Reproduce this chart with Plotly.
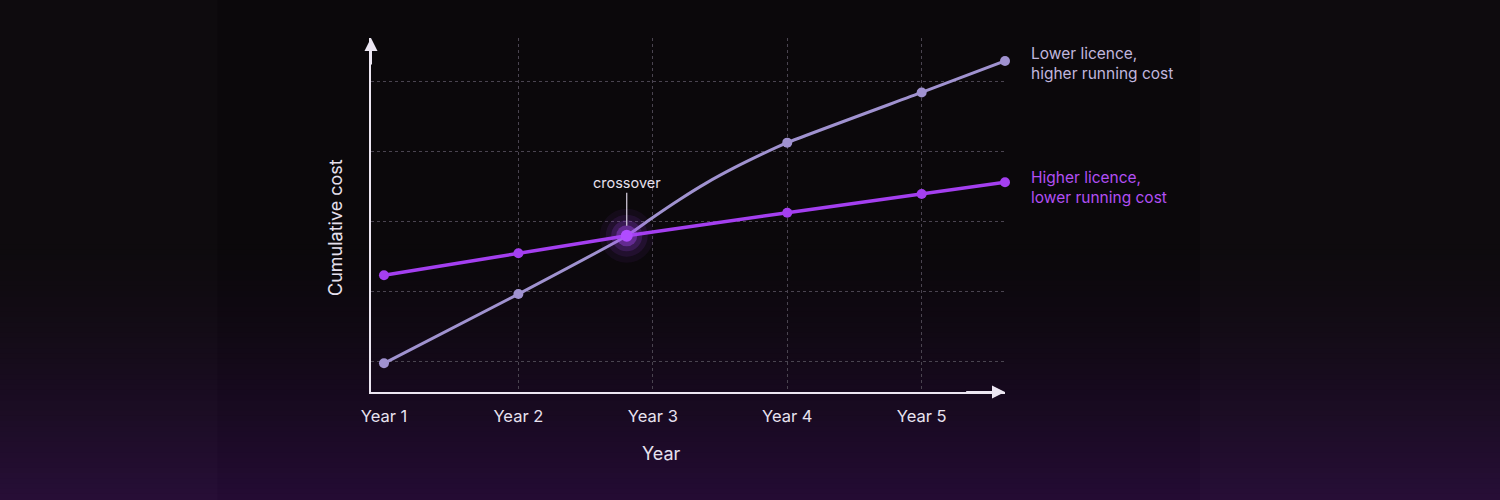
import plotly.graph_objects as go

# years with real markers
LOW_LIC_YEARS = [1, 2, 4, 5, 5.62]
LOW_LIC_COST = [96.7, 196, 413, 485, 530]
# path of the lavender curve (incl. the bend after the crossover)
LOW_LIC_PATH_X = [1, 2, 2.806, 3.0, 3.2, 3.4, 3.6, 3.8, 4, 5, 5.62]
LOW_LIC_PATH_Y = [96.7, 196, 279.6, 305.8, 331.6, 355.4, 376.4, 395.4, 413, 485, 530]

HIGH_LIC_YEARS = [1, 2, 2.806, 4, 5, 5.62]
HIGH_LIC_COST = [223, 254.4, 279.6, 312.6, 339.4, 356.2]

CROSS_X = 2.806
CROSS_Y = 279.6

TICK_YEARS = [1, 2, 3, 4, 5]
TICK_TEXT = ["Year 1", "Year 2", "Year 3", "Year 4", "Year 5"]
GRID_YEARS = [2, 3, 4, 5]
GRID_COST = [100, 200, 300, 400, 500]

X_RANGE = [0.9035, 5.62]
Y_RANGE = [55.6, 563]

LAV = "#a092d0"
PURP = "#a43ff0"
FONT = "Inter, Roboto, sans-serif"

fig = go.Figure()

# lavender line (curve) + its markers
fig.add_trace(go.Scatter(x=LOW_LIC_PATH_X, y=LOW_LIC_PATH_Y, mode="lines",
                         line=dict(color=LAV, width=3, shape="spline", smoothing=0.5),
                         hoverinfo="skip", cliponaxis=False))
fig.add_trace(go.Scatter(x=LOW_LIC_YEARS, y=LOW_LIC_COST, mode="markers",
                         marker=dict(color=LAV, size=10), cliponaxis=False))

# purple line
fig.add_trace(go.Scatter(x=HIGH_LIC_YEARS, y=HIGH_LIC_COST, mode="lines+markers",
                         line=dict(color=PURP, width=3.5),
                         marker=dict(color=PURP, size=10), cliponaxis=False))

# glow at the crossover
for sz, op in [(54, 0.06), (42, 0.1), (31, 0.18), (21, 0.38)]:
    fig.add_trace(go.Scatter(x=[CROSS_X], y=[CROSS_Y], mode="markers", xaxis="x2",
                             marker=dict(color="#a848f8", size=sz, opacity=op, line=dict(width=0)),
                             hoverinfo="skip"))
fig.add_trace(go.Scatter(x=[CROSS_X], y=[CROSS_Y], mode="markers", xaxis="x2",
                         marker=dict(color="#b04cff", size=12)))

# background gradient (dark top -> purple bottom)
shapes = []
top, bot = (11, 8, 11), (36, 11, 52)
n = 50
y_start = 240
for i in range(n):
    p0 = y_start + (500 - y_start) * i / n
    p1 = y_start + (500 - y_start) * (i + 1) / n
    t = ((p0 + p1) / 2 - y_start) / (500 - y_start)
    c = tuple(int(round(top[k] + (bot[k] - top[k]) * t ** 1.5)) for k in range(3))
    shapes.append(dict(type="rect", xref="paper", yref="paper", x0=0, x1=1,
                       y0=1 - p1 / 500, y1=1 - p0 / 500 + 0.002,
                       fillcolor="rgb(%d,%d,%d)" % c, line=dict(width=0), layer="below"))
# slightly lighter side panels
for x0, x1 in [(0, 0.145), (0.80, 1)]:
    shapes.append(dict(type="rect", xref="paper", yref="paper", x0=x0, x1=x1, y0=0, y1=1,
                       fillcolor="rgba(255,255,255,0.015)", line=dict(width=0), layer="below"))

ann = []
# axis arrows
ann.append(dict(x=X_RANGE[1], y=Y_RANGE[0], ax=X_RANGE[1] - 0.3, ay=Y_RANGE[0],
                xref="x", yref="y", axref="x", ayref="y", text="", showarrow=True,
                arrowhead=2, arrowsize=1.3, arrowwidth=2, arrowcolor="#ece6f2"))
ann.append(dict(x=X_RANGE[0], y=Y_RANGE[1], ax=X_RANGE[0], ay=Y_RANGE[1] - 40,
                xref="x", yref="y", axref="x", ayref="y", text="", showarrow=True,
                arrowhead=2, arrowsize=1.3, arrowwidth=2, arrowcolor="#ece6f2"))
# crossover label
ann.append(dict(x=CROSS_X, y=CROSS_Y, xref="x", yref="y", text="crossover",
                showarrow=True, arrowhead=0, arrowwidth=1.2, arrowcolor="#d8d0e2",
                ax=0, ay=-53, standoff=10, font=dict(family=FONT, size=14.5, color="#e6e0ee")))
# series labels
ann.append(dict(x=LOW_LIC_YEARS[-1], y=LOW_LIC_COST[-1], xref="x", yref="y",
                text="Lower licence,<br>higher running cost", showarrow=False,
                xanchor="left", yanchor="middle", align="left", xshift=24, yshift=-2,
                font=dict(family=FONT, size=15.5, color="#c0b6de")))
ann.append(dict(x=HIGH_LIC_YEARS[-1], y=HIGH_LIC_COST[-1], xref="x", yref="y",
                text="Higher licence,<br>lower running cost", showarrow=False,
                xanchor="left", yanchor="middle", align="left", xshift=24, yshift=-5,
                font=dict(family=FONT, size=15.5, color="#b24ff4")))
# axis titles
ann.append(dict(x=661 / 1500, y=1 - 453 / 500, xref="paper", yref="paper", text="Year",
                xanchor="center", yanchor="middle", showarrow=False,
                font=dict(family=FONT, size=18, color="#e6e0ee")))
ann.append(dict(x=336 / 1500, y=1 - 228 / 500, xref="paper", yref="paper",
                text="Cumulative cost", textangle=-90, showarrow=False,
                xanchor="center", yanchor="middle",
                font=dict(family=FONT, size=18, color="#e6e0ee")))

fig.update_layout(
    width=1500, height=500,
    margin=dict(l=0, r=0, t=0, b=0, autoexpand=False),
    paper_bgcolor="#0b080b", plot_bgcolor="rgba(0,0,0,0)",
    showlegend=False,
    shapes=shapes, annotations=ann,
    xaxis=dict(domain=[371 / 1500, 1005 / 1500], range=X_RANGE, tickvals=TICK_YEARS,
               ticktext=TICK_TEXT, showgrid=False, zeroline=False, showline=True,
               linecolor="#ece6f2", linewidth=2, ticks="", ticklabelstandoff=8,
               automargin=False, tickfont=dict(family=FONT, size=16.5, color="#e8e2f0")),
    xaxis2=dict(overlaying="x", matches="x", anchor="y", tickvals=GRID_YEARS,
                showticklabels=False, showgrid=True, gridcolor="#4a4450",
                griddash="3px,3px", gridwidth=1, zeroline=False, showline=False,
                automargin=False),
    yaxis=dict(domain=[1 - 392 / 500, 1 - 38 / 500], range=Y_RANGE, tickvals=GRID_COST,
               showticklabels=False, showgrid=True, gridcolor="#4a4450",
               griddash="3px,3px", gridwidth=1, zeroline=False, showline=True,
               linecolor="#ece6f2", linewidth=2, ticks="", automargin=False),
)

page_js = ("document.documentElement.style.margin='0';"
           "document.documentElement.style.background='#0b080b';"
           "document.body.style.margin='0';"
           "document.body.style.overflow='hidden';")
fig.write_html("out.html", config={"displayModeBar": False}, post_script=page_js)
